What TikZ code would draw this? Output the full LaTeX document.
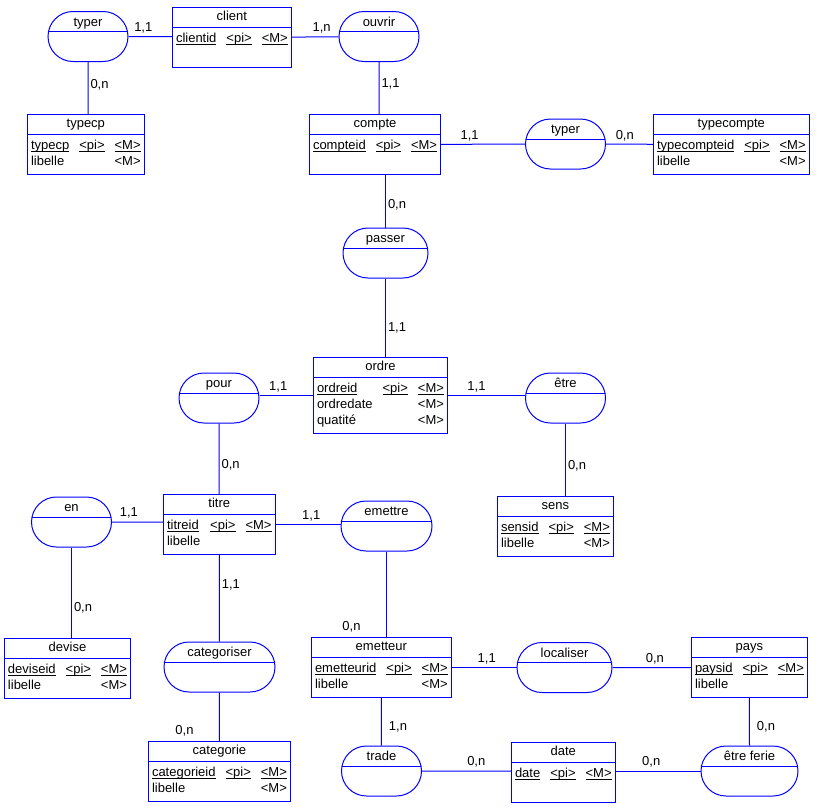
\documentclass[tikz,border=0pt]{standalone}
\usepackage{fontspec}
\setmainfont{Liberation Sans}
\usepackage{tikz}
\usetikzlibrary{shapes.multipart,shapes.misc}
\definecolor{bleu}{RGB}{0,0,255}
\newlength{\clelen}
\newcommand{\cle}[1]{\settowidth{\clelen}{#1}\rlap{\rule[-2pt]{\clelen}{1pt}}#1}
\newcommand{\corps}[1]{\begin{tabular}{@{}l@{\hspace{10pt}}l@{\hspace{10pt}}r@{}}%
  \noalign{\vskip2pt}#1\\[2pt]\end{tabular}}

\begin{document}
\begin{tikzpicture}[x=1pt, y=-1pt, font=\fontsize{13}{16}\selectfont,
  entite/.style={draw=bleu, line width=1pt, rectangle split,
                 rectangle split parts=2, inner xsep=3.5pt, inner ysep=1.5pt,
                 anchor=north west},
  assoc/.style={draw=bleu, line width=1pt, rounded rectangle,
                minimum width=80pt, minimum height=50pt, inner xsep=0pt,
                inner ysep=2pt, text height=10pt, text depth=30.5pt,
                path picture={\draw[bleu, line width=1pt]
                  ([yshift=5pt]path picture bounding box.west) --
                  ([yshift=5pt]path picture bounding box.east);}},
  lien/.style={draw=bleu, line width=1pt},
  card/.style={inner sep=1pt}]
\useasboundingbox (0,0) rectangle (819,809);

% entites
\node[entite] (client) at (172,7)
  {client\strut \nodepart{two} \corps{\cle{clientid} & \cle{<pi>} & \cle{<M>}\\ & &}};
\node[entite] (typecp) at (27,114)
  {typecp\strut \nodepart{two} \corps{\cle{typecp} & \cle{<pi>} & \cle{<M>}\\ libelle & & <M>}};
\node[entite] (compte) at (309,114)
  {compte\strut \nodepart{two} \corps{\cle{compteid} & \cle{<pi>} & \cle{<M>}\\ & &}};
\node[entite] (typecompte) at (653,114)
  {typecompte\strut \nodepart{two} \corps{\cle{typecompteid} & \cle{<pi>} & \cle{<M>}\\ libelle & & <M>}};
\node[entite] (ordre) at (313,357)
  {ordre\strut \nodepart{two} \corps{\cle{ordreid} & \cle{<pi>} & \cle{<M>}\\ ordredate & & <M>\\ quatité & & <M>}};
\node[entite] (sens) at (497,496)
  {sens\strut \nodepart{two} \corps{\cle{sensid} & \cle{<pi>} & \cle{<M>}\\ libelle & & <M>}};
\node[entite] (titre) at (163,494)
  {titre\strut \nodepart{two} \corps{\cle{titreid} & \cle{<pi>} & \cle{<M>}\\ libelle & &}};
\node[entite] (devise) at (4,638)
  {devise\strut \nodepart{two} \corps{\cle{deviseid} & \cle{<pi>} & \cle{<M>}\\ libelle & & <M>}};
\node[entite] (emetteur) at (311,637)
  {emetteur\strut \nodepart{two} \corps{\cle{emetteurid} & \cle{<pi>} & \cle{<M>}\\ libelle & & <M>}};
\node[entite] (categorie) at (148,741)
  {categorie\strut \nodepart{two} \corps{\cle{categorieid} & \cle{<pi>} & \cle{<M>}\\ libelle & & <M>}};
\node[entite] (pays) at (691,637)
  {pays\strut \nodepart{two} \corps{\cle{paysid} & \cle{<pi>} & \cle{<M>}\\ libelle & &}};
\node[entite] (date) at (511,742)
  {date\strut \nodepart{two} \corps{\cle{date} & \cle{<pi>} & \cle{<M>}\\ & &}};

% associations
\node[assoc] (typerA) at (88,36.5) {typer};
\node[assoc] (ouvrir) at (379,36.5) {ouvrir};
\node[assoc] (typerB) at (565.5,144) {typer};
\node[assoc, minimum width=85pt] (passer) at (385.5,253) {passer};
\node[assoc] (pour) at (219,398) {pour};
\node[assoc] (etre) at (565.5,398) {être};
\node[assoc] (en) at (71.5,522) {en};
\node[assoc, minimum width=91pt] (emettre) at (386.5,526) {emettre};
\node[assoc, minimum width=111pt] (categoriser) at (219.5,667) {categoriser};
\node[assoc, minimum width=95pt] (localiser) at (564.5,667.5) {localiser};
\node[assoc] (trade) at (381.5,771) {trade};
\node[assoc, minimum width=97pt] (etreferie) at (749.5,771) {être ferie};

% liens et cardinalites
\draw[lien] (typerA) -- node[card, pos=.34, above=2pt] (c1) {1,1} (typerA -| client.west);
\draw[lien] (client) -- node[card, pos=.64, above=2pt] (c2) {1,n} (ouvrir);
\draw[lien] (typerA) -- node[card, pos=.44, right=1pt] (c3) {0,n} (typerA |- typecp.north);
\draw[lien] (ouvrir) -- node[card, pos=.42, right=1pt] (c4) {1,1} (ouvrir |- compte.north);
\draw[lien] (compte) -- node[card, pos=.34, above=2pt] (c5) {1,1} (typerB);
\draw[lien] (typerB) -- node[card, pos=.40, above=2pt] (c6) {0,n} (typecompte);
\draw[lien] (passer |- compte.south) -- node[card, pos=.56, right=1pt] (c7) {0,n} (passer);
\draw[lien] (passer) -- node[card, pos=.63, right=1pt] (c8) {1,1} (passer |- ordre.north);
\draw[lien] (pour.east |- ordre) -- node[card, pos=.35, above=2pt] (c9) {1,1} (ordre);
\draw[lien] (ordre) -- node[card, pos=.37, above=2pt] (c10) {1,1} (ordre -| etre.west);
\draw[lien] (pour) -- node[card, pos=.58, right=1pt] (c11) {0,n} (titre);
\draw[lien] (etre) -- node[card, pos=.59, right=1pt] (c12) {0,n} (etre |- sens.north);
\draw[lien] (en) -- node[card, pos=.33, above=2pt] (c13) {1,1} (en -| titre.west);
\draw[lien] (titre) -- node[card, pos=.55, above=2pt] (c14) {1,1} (titre -| emettre.west);
\draw[lien] (en) -- node[card, pos=.67, right=1pt] (c15) {0,n} (en |- devise.north);
\draw[lien] (titre) -- node[card, pos=.34, right=1pt] (c16) {1,1} (categoriser);
\draw[lien] (emettre) -- node[card, at end, xshift=-35pt, yshift=10pt] (c17) {0,n} (emettre |- emetteur.north);
\draw[lien] (categoriser) -- node[card, at end, xshift=-35pt, yshift=10pt] (c18) {0,n} (categorie);
\draw[lien] (emetteur) -- node[card, pos=.54, above=2pt] (c19) {1,1} (localiser);
\draw[lien] (localiser) -- node[card, pos=.54, above=2pt] (c20) {0,n} (pays);
\draw[lien] (emetteur) -- node[card, pos=.61, right=6pt] (c21) {1,n} (trade);
\draw[lien] (pays) -- node[card, pos=.61, right=6pt] (c22) {0,n} (etreferie);
\draw[lien] (trade) -- node[card, pos=.61, above=2pt] (c23) {0,n} (trade -| date.west);
\draw[lien] (etreferie -| date.east) -- node[card, pos=.42, above=2pt] (c24) {0,n} (etreferie);
\end{tikzpicture}
\end{document}
